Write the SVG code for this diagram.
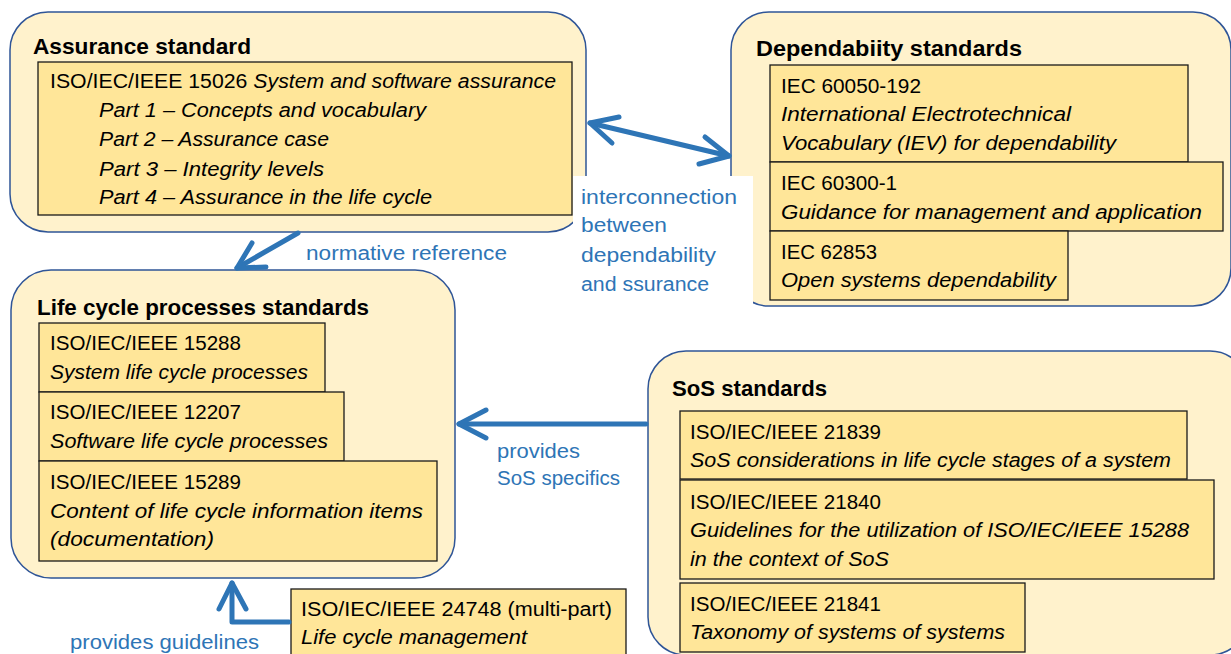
<svg xmlns="http://www.w3.org/2000/svg" width="1231" height="654" viewBox="0 0 1231 654">
<style>
.outer{fill:#FFF2CC;stroke:#2F5597;stroke-width:1.5}
.inner{fill:#FFE699;stroke:#1a1a1a;stroke-width:1.3}
text{font-family:"Liberation Sans",Arial,sans-serif;font-size:20px;fill:#000}
.title{font-weight:bold;font-size:22px}
.it{font-style:italic}
.lbl{fill:#2E75B6}
.conn{fill:none;stroke:#2E75B6;stroke-width:5;stroke-linecap:round;stroke-linejoin:round}
</style>
<rect width="1231" height="654" fill="#FFFFFF"/>

<g id="lifecycle">
<rect class="outer" x="11" y="270" width="444" height="308" rx="40"/>
<text class="title" x="37" y="315" textLength="332" lengthAdjust="spacingAndGlyphs">Life cycle processes standards</text>
<rect class="inner" x="39" y="323" width="286" height="69"/>
<text x="50" y="350" textLength="191" lengthAdjust="spacingAndGlyphs">ISO/IEC/IEEE 15288</text>
<text class="it" x="50" y="379" textLength="258" lengthAdjust="spacingAndGlyphs">System life cycle processes</text>
<rect class="inner" x="39" y="392" width="305" height="69"/>
<text x="50" y="419" textLength="191" lengthAdjust="spacingAndGlyphs">ISO/IEC/IEEE 12207</text>
<text class="it" x="50" y="448" textLength="278" lengthAdjust="spacingAndGlyphs">Software life cycle processes</text>
<rect class="inner" x="39" y="461" width="398" height="100"/>
<text x="50" y="489" textLength="191" lengthAdjust="spacingAndGlyphs">ISO/IEC/IEEE 15289</text>
<text class="it" x="50" y="518" textLength="373" lengthAdjust="spacingAndGlyphs">Content of life cycle information items</text>
<text class="it" x="50" y="546" textLength="164" lengthAdjust="spacingAndGlyphs">(documentation)</text>
</g>

<g id="assurance">
<rect class="outer" x="10" y="12" width="576" height="220" rx="38"/>
<text class="title" x="33" y="54" textLength="218" lengthAdjust="spacingAndGlyphs">Assurance standard</text>
<rect class="inner" x="38" y="62" width="534" height="153"/>
<text x="50" y="88" textLength="506" lengthAdjust="spacingAndGlyphs">ISO/IEC/IEEE 15026 <tspan class="it">System and software assurance</tspan></text>
<text class="it" x="99" y="117" textLength="327" lengthAdjust="spacingAndGlyphs">Part 1 – Concepts and vocabulary</text>
<text class="it" x="99" y="146" textLength="230" lengthAdjust="spacingAndGlyphs">Part 2 – Assurance case</text>
<text class="it" x="99" y="176" textLength="225" lengthAdjust="spacingAndGlyphs">Part 3 – Integrity levels</text>
<text class="it" x="99" y="204" textLength="333" lengthAdjust="spacingAndGlyphs">Part 4 – Assurance in the life cycle</text>
</g>

<g id="dependability">
<rect class="outer" x="731" y="12" width="500" height="294" rx="38"/>
<text class="title" x="756" y="56" textLength="266" lengthAdjust="spacingAndGlyphs">Dependabiity standards</text>
<rect class="inner" x="770" y="65" width="418" height="97"/>
<text x="781" y="93" textLength="140" lengthAdjust="spacingAndGlyphs">IEC 60050-192</text>
<text class="it" x="781" y="121" textLength="290" lengthAdjust="spacingAndGlyphs">International Electrotechnical</text>
<text class="it" x="781" y="150" textLength="335" lengthAdjust="spacingAndGlyphs">Vocabulary (IEV) for dependability</text>
<rect class="inner" x="770" y="162" width="453" height="69"/>
<text x="781" y="190" textLength="116" lengthAdjust="spacingAndGlyphs">IEC 60300-1</text>
<text class="it" x="781" y="219" textLength="421" lengthAdjust="spacingAndGlyphs">Guidance for management and application</text>
<rect class="inner" x="770" y="231" width="298" height="69"/>
<text x="781" y="259" textLength="96" lengthAdjust="spacingAndGlyphs">IEC 62853</text>
<text class="it" x="781" y="287" textLength="275" lengthAdjust="spacingAndGlyphs">Open systems dependability</text>
</g>

<g id="sos">
<rect class="outer" x="648" y="351" width="600" height="304" rx="38"/>
<text class="title" x="672" y="396" textLength="155" lengthAdjust="spacingAndGlyphs">SoS standards</text>
<rect class="inner" x="680" y="411" width="507" height="68"/>
<text x="690" y="439" textLength="191" lengthAdjust="spacingAndGlyphs">ISO/IEC/IEEE 21839</text>
<text class="it" x="690" y="467" textLength="481" lengthAdjust="spacingAndGlyphs">SoS considerations in life cycle stages of a system</text>
<rect class="inner" x="680" y="480" width="534" height="99"/>
<text x="690" y="509" textLength="191" lengthAdjust="spacingAndGlyphs">ISO/IEC/IEEE 21840</text>
<text class="it" x="690" y="537" textLength="499" lengthAdjust="spacingAndGlyphs">Guidelines for the utilization of ISO/IEC/IEEE 15288</text>
<text class="it" x="690" y="566" textLength="199" lengthAdjust="spacingAndGlyphs">in the context of SoS</text>
<rect class="inner" x="680" y="583" width="345" height="69"/>
<text x="690" y="611" textLength="191" lengthAdjust="spacingAndGlyphs">ISO/IEC/IEEE 21841</text>
<text class="it" x="690" y="639" textLength="315" lengthAdjust="spacingAndGlyphs">Taxonomy of systems of systems</text>
</g>

<g id="lcm">
<rect class="inner" x="291" y="589" width="335" height="80"/>
<text x="301" y="616" textLength="311" lengthAdjust="spacingAndGlyphs">ISO/IEC/IEEE 24748 (multi-part)</text>
<text class="it" x="301" y="644" textLength="226" lengthAdjust="spacingAndGlyphs">Life cycle management</text>
</g>

<g id="connectors">
<rect x="573" y="176" width="180" height="130" fill="#FFFFFF"/>
<path class="conn" d="M590,123 L729,156"/>
<path class="conn" d="M619,117 L590,123 L612,143"/>
<path class="conn" d="M705,137 L729,156 L699,164"/>
<path class="conn" d="M298,233 L237,268"/>
<path class="conn" d="M252,243 L237,268 L266,267"/>
<path class="conn" d="M646,424 L459,424"/>
<path class="conn" d="M486,410 L459,424 L486,438"/>
<path class="conn" d="M289,622 L232,622 L232,583"/>
<path class="conn" d="M219,609 L232,583 L246,609"/>
<text class="lbl" x="581" y="204" textLength="156" lengthAdjust="spacingAndGlyphs">interconnection</text>
<text class="lbl" x="581" y="232" textLength="86" lengthAdjust="spacingAndGlyphs">between</text>
<text class="lbl" x="581" y="262" textLength="135" lengthAdjust="spacingAndGlyphs">dependability</text>
<text class="lbl" x="581" y="291" textLength="128" lengthAdjust="spacingAndGlyphs">and ssurance</text>
<text class="lbl" x="306" y="260" textLength="201" lengthAdjust="spacingAndGlyphs">normative reference</text>
<text class="lbl" x="497" y="458" textLength="83" lengthAdjust="spacingAndGlyphs">provides</text>
<text class="lbl" x="497" y="485" textLength="123" lengthAdjust="spacingAndGlyphs">SoS specifics</text>
<text class="lbl" x="70" y="649" textLength="189" lengthAdjust="spacingAndGlyphs">provides guidelines</text>
</g>
</svg>
